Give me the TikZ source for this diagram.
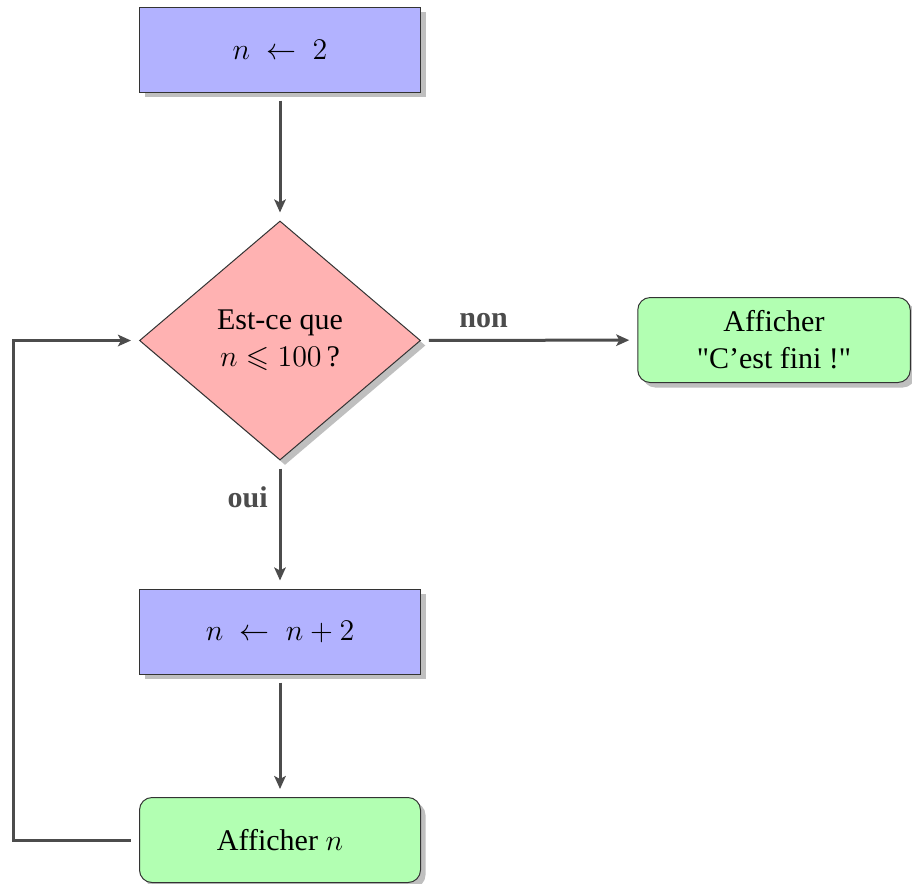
\documentclass[tikz,border=0pt]{standalone}
\usepackage{amssymb}
\usepackage{fontspec}
\setmainfont{Liberation Serif}[Ligatures=TeXOff]
\usetikzlibrary{shapes.geometric,shadows,arrows.meta}
\begin{document}
\begin{tikzpicture}[x=0.4pt,y=-0.4pt,
  font=\fontsize{12}{14.8}\selectfont,
  shad/.style={drop shadow={shadow xshift=2pt,shadow yshift=-2pt,fill=black!25,opacity=1}},
  instr/.style={rectangle,draw=black!80,fill=blue!30,minimum width=112.4pt,minimum height=34pt,inner sep=0pt,align=center,shad},
  outp/.style={rectangle,rounded corners=5pt,draw=black!80,fill=green!30,minimum width=112.4pt,minimum height=34pt,inner sep=0pt,align=center,shad},
  test/.style={diamond,draw=black!80,fill=red!30,minimum width=112.4pt,minimum height=95.6pt,inner sep=0pt,align=center,shad},
  conn/.style={draw=black!70,line width=1.2pt,-{Stealth[length=5.2pt,width=4.6pt,inset=1.2pt]},shorten <=3.2pt,shorten >=3.2pt},
  lab/.style={text=black!70,font=\fontsize{12}{14.8}\selectfont\bfseries}]
\useasboundingbox (0,0) rectangle (912,883);
\node[instr] (a) at (280,49.5) {$n \;\leftarrow\ 2$};
\node[test] (t) at (280,340.5) {Est-ce que\\ $n \leqslant 100$\,?};
\node[outp,minimum width=109pt] (f) at (774,340) {Afficher\\ "C’est fini !"};
\node[instr] (b) at (280,631.5) {$n \;\leftarrow\ n+2$};
\node[outp] (d) at (280,840) {Afficher $n$};
\coordinate (c) at (13,340.5);
\draw[conn] (a) -- (t);
\draw[conn] (t) -- node[lab,pos=0.29,above=1pt] {non} (f);
\draw[conn] (t) -- node[lab,pos=0.29,left=1pt] {oui} (b);
\draw[conn] (b) -- (d);
\draw[conn] (d.west) -| (c) -- (t.west);
\end{tikzpicture}
\end{document}
